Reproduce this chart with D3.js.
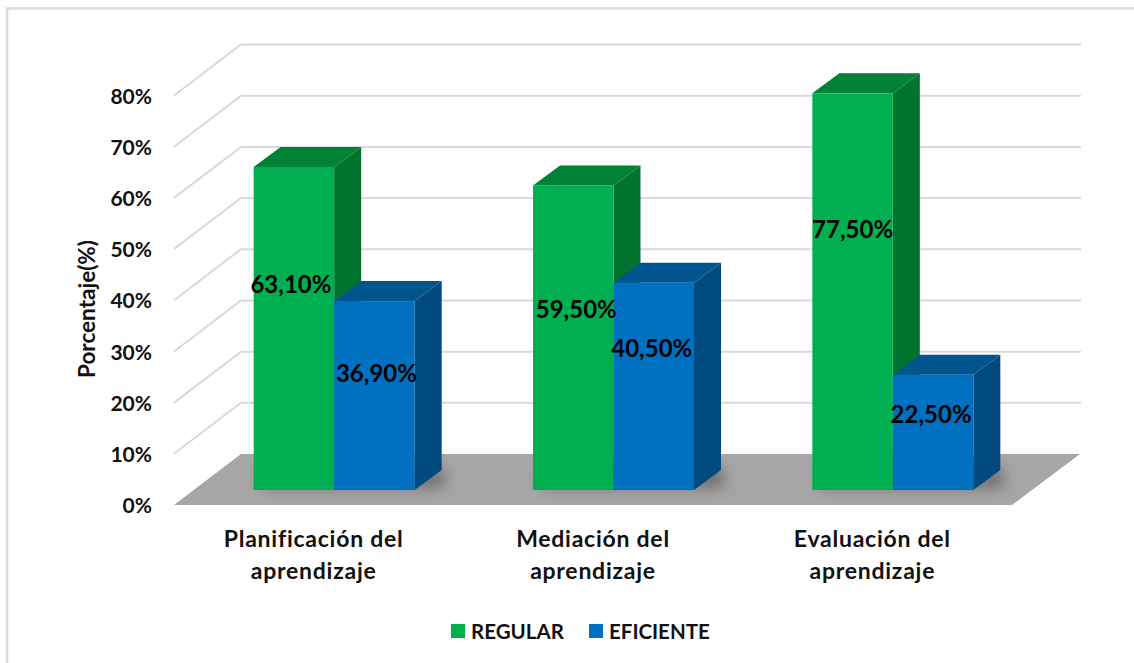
<!DOCTYPE html>
<html><head><meta charset="utf-8">
<script src="https://cdn.jsdelivr.net/npm/d3@7"></script>
<style>
html,body{margin:0;padding:0;background:#fff}
svg{display:block}
text{font-family:Lato,"Open Sans",sans-serif;font-weight:700;fill:#111}
</style></head><body>
<svg id="c" width="1134" height="663"></svg>
<script>
const categories=[["Planificación del","aprendizaje"],["Mediación del","aprendizaje"],["Evaluación del","aprendizaje"]];
const seriesNames=["REGULAR","EFICIENTE"];
const regular=[63.1,59.5,77.5];
const eficiente=[36.9,40.5,22.5];
const yTicks=[0,10,20,30,40,50,60,70,80];
const colors={REGULAR:["#00b050","#008236","#00732f"],EFICIENTE:["#0070c0","#00558f","#004a80"]};
// manual label nudges [dx,dy] relative to bar centre, as placed in the source chart
const labelNudge={REGULAR:[[-3,-45],[3,-29],[0,-63]],EFICIENTE:[[2,-23],[-2,-39],[-2,-19]]};

const svg=d3.select("#c");
const depth={dx:67,dy:-51};
const barDepth={dx:27,dy:-20};
const inset={dx:20.5,dy:-15};
const y=d3.scaleLinear().domain([0,80]).range([505,95.5]);
const x0=d3.scaleBand().domain(d3.range(categories.length)).range([174,1012]);
const groupW=161;
const x1=d3.scaleBand().domain(seriesNames).range([0,groupW]);
const pct=d=>d.toFixed(2).replace(".",",")+"%";

// frame
svg.append("path").attr("d","M1134,8.5H7V663").attr("fill","none").attr("stroke","#dcdcdc").attr("stroke-width",2.5);

const defs=svg.append("defs");
defs.append("filter").attr("id","blur").attr("x","-30%").attr("y","-60%").attr("width","160%").attr("height","220%")
  .append("feGaussianBlur").attr("stdDeviation",7);
const x00=y(0);
const floorPts=[[174,x00],[1012,x00],[1012+depth.dx+1,x00+depth.dy],[174+depth.dx,x00+depth.dy]];
defs.append("clipPath").attr("id","floorClip").append("polygon").attr("points",floorPts.join(" "));

// gridlines
svg.append("g").selectAll("path").data(yTicks.filter(d=>d>0)).join("path")
  .attr("d",d=>`M${174},${y(d)}L${174+depth.dx},${y(d)+depth.dy}H1081`)
  .attr("fill","none").attr("stroke","#d9d9d9").attr("stroke-width",2);

// floor
svg.append("polygon").attr("points",floorPts.join(" ")).attr("fill","#a6a6a6");

const groups=categories.map((c,i)=>({i,left:x0(i)+(x0.bandwidth()-groupW)/2+inset.dx}));

// floor shadows
svg.append("g").attr("clip-path","url(#floorClip)").selectAll("rect").data(groups).join("rect")
  .attr("x",d=>d.left+8).attr("width",groupW+22)
  .attr("y",y(0)+inset.dy-22).attr("height",20)
  .attr("fill","#4d4d4d").attr("opacity",.6).attr("filter","url(#blur)");

// bars
const flat=[];
groups.forEach(g=>{
  seriesNames.forEach((s,k)=>{
    const v=(k===0?regular:eficiente)[g.i];
    flat.push({s,v,i:g.i,x:g.left+x1(s),w:x1.bandwidth(),yTop:y(v)+inset.dy,yBot:y(0)+inset.dy,nudge:labelNudge[s][g.i]});
  });
});
const bar=svg.append("g").selectAll("g").data(flat).join("g");
bar.append("polygon").attr("fill",d=>colors[d.s][2])
  .attr("points",d=>[[d.x+d.w,d.yTop],[d.x+d.w+barDepth.dx,d.yTop+barDepth.dy],[d.x+d.w+barDepth.dx,d.yBot+barDepth.dy],[d.x+d.w,d.yBot]].join(" "));
bar.append("polygon").attr("fill",d=>colors[d.s][1])
  .attr("points",d=>[[d.x,d.yTop],[d.x+barDepth.dx,d.yTop+barDepth.dy],[d.x+d.w+barDepth.dx,d.yTop+barDepth.dy],[d.x+d.w,d.yTop]].join(" "));
bar.append("rect").attr("fill",d=>colors[d.s][0])
  .attr("x",d=>d.x).attr("y",d=>d.yTop).attr("width",d=>d.w).attr("height",d=>d.yBot-d.yTop);

// data labels
svg.append("g").selectAll("text").data(flat).join("text")
  .attr("x",d=>d.x+d.w/2+d.nudge[0]).attr("y",d=>(d.yTop+d.yBot)/2+d.nudge[1])
  .attr("text-anchor","middle").attr("dominant-baseline","central")
  .style("font-size","24px").style("fill","#000").text(d=>pct(d.v));

// y axis
const ax=svg.append("g").attr("transform","translate(152,1)")
  .call(d3.axisLeft(y).tickValues(yTicks).tickSize(0).tickPadding(0).tickFormat(d=>d+"%"));
ax.select(".domain").remove();
ax.selectAll("text").style("font-size","21px").style("font-family",'Lato,sans-serif').style("fill","#111");

svg.append("text").attr("transform","translate(86,309) rotate(-90)")
  .attr("text-anchor","middle").attr("dominant-baseline","central")
  .style("font-size","22.5px").text("Porcentaje(%)");

// category labels
const cat=svg.append("g").selectAll("text").data(groups).join("text")
  .attr("text-anchor","middle").style("font-size","23px").style("letter-spacing","0.75px");
cat.selectAll("tspan").data(d=>categories[d.i].map((t,n)=>({t,n,cx:x0(d.i)+x0.bandwidth()/2}))).join("tspan")
  .attr("x",d=>d.cx).attr("y",d=>547+d.n*32).text(d=>d.t);

// legend
const legX={REGULAR:451,EFICIENTE:589};
const leg=svg.append("g").selectAll("g").data(seriesNames).join("g").attr("transform",d=>`translate(${legX[d]},624)`);
leg.append("rect").attr("width",14).attr("height",14).attr("fill",d=>colors[d][0]);
leg.append("text").attr("x",20).attr("y",7).attr("dominant-baseline","central").style("font-size","20.5px").text(d=>d);
</script>
</body></html>
